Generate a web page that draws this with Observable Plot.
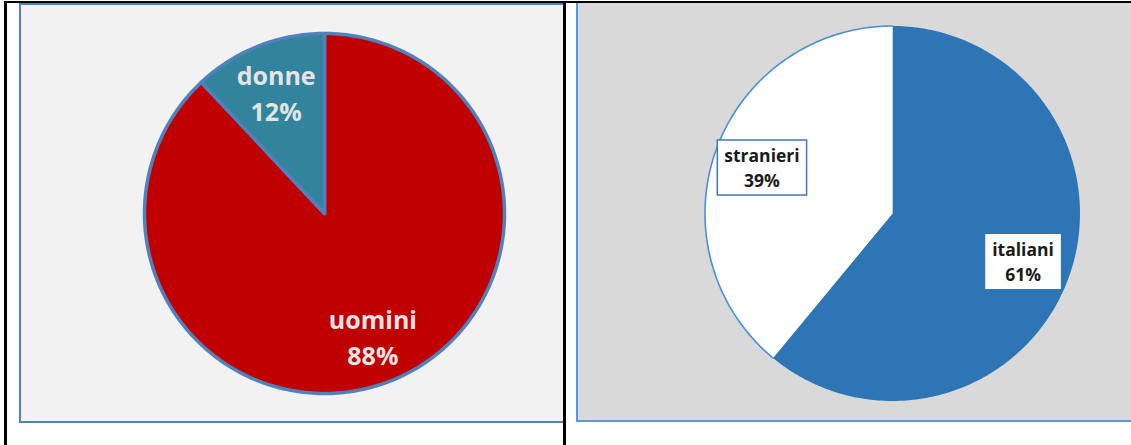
<!DOCTYPE html>
<html>
<head>
<meta charset="utf-8">
<script src="https://cdn.jsdelivr.net/npm/d3@7"></script>
<script src="https://cdn.jsdelivr.net/npm/@observablehq/plot@0.6"></script>
<style>
  html, body { margin: 0; padding: 0; background: #fff; }
  #page { position: relative; width: 1131px; height: 445px; overflow: hidden; background: #fff; }
  .abs { position: absolute; box-sizing: border-box; }
  #topline { left: 4px; top: 1px; width: 1127px; height: 2px; background: #000; }
  #lline { left: 4px; top: 1px; width: 3px; height: 444px; background: #000; }
  #mline { left: 563px; top: 1px; width: 3px; height: 444px; background: #000; }
  #lpanel { left: 19px; top: 3px; width: 544px; height: 420px; background: #f2f2f2;
            border-left: 2px solid #4f81bd; border-top: 2px solid #4f81bd; border-bottom: 2px solid #4f81bd; }
  #rpanel { left: 576px; top: 1px; width: 555px; height: 421px; background: #d9d9d9;
            border-left: 2px solid #5b9bd5; border-top: 2px solid #5b9bd5; border-bottom: 2px solid #5b9bd5; }
  #lchart { left: 124px; top: 13px; }
  #rchart { left: 692px; top: 13px; }
</style>
</head>
<body>
<div id="page">
  <div class="abs" id="lpanel"></div>
  <div class="abs" id="rpanel"></div>
  <div class="abs" id="topline"></div>
  <div class="abs" id="lline"></div>
  <div class="abs" id="mline"></div>
  <div class="abs" id="lchart"></div>
  <div class="abs" id="rchart"></div>
</div>
<script>
// ---- data ----
const genderCategories = ["uomini", "donne"];
const genderValues = [88, 12];
const originCategories = ["italiani", "stranieri"];
const originValues = [61, 39];

// ---- helpers: slice angles (clockwise from 12 o'clock) ----
function slices(categories, values) {
  const total = d3.sum(values);
  let acc = 0;
  return categories.map((c, i) => {
    const a0 = acc / total * 2 * Math.PI;
    acc += values[i];
    const a1 = acc / total * 2 * Math.PI;
    return {category: c, value: values[i], a0, a1, mid: (a0 + a1) / 2};
  });
}
function arcPoints(s) {
  const n = Math.max(2, Math.ceil((s.a1 - s.a0) / (Math.PI / 180)));
  const pts = [];
  for (let k = 0; k <= n; k++) {
    const a = s.a0 + (s.a1 - s.a0) * k / n;
    pts.push({category: s.category, x: Math.sin(a), y: Math.cos(a)});
  }
  return pts;
}
function wedgePoints(s) {
  return [{category: s.category, x: 0, y: 0}, ...arcPoints(s), {category: s.category, x: 0, y: 0}];
}

// ---- left pie: uomini / donne ----
const g = slices(genderCategories, genderValues);
const leftPlot = Plot.plot({
  width: 400, height: 400, margin: 20,
  x: {domain: [-1, 1], axis: null},
  y: {domain: [-1, 1], axis: null},
  color: {domain: genderCategories, range: ["#c00000", "#31849b"]},
  style: {background: "transparent", overflow: "visible"},
  marks: [
    Plot.line(g.flatMap(wedgePoints), {
      x: "x", y: "y", z: "category", fill: "category",
      stroke: "#4f81bd", strokeWidth: 3.5, strokeLinejoin: "round"
    }),
    Plot.text(g, {
      x: d => 0.73 * Math.sin(d.mid), y: d => 0.73 * Math.cos(d.mid),
      text: d => `${d.category}\n${d.value}%`,
      fill: "#e4e4e4", fontSize: 25, fontWeight: "bold", fontFamily: "Open Sans",
      lineHeight: 1.45
    })
  ]
});
document.getElementById("lchart").appendChild(leftPlot);

// ---- right pie: italiani / stranieri ----
const o = slices(originCategories, originValues);
const rightPlot = Plot.plot({
  width: 400, height: 400, margin: 12.5,
  x: {domain: [-1, 1], axis: null},
  y: {domain: [-1, 1], axis: null},
  color: {domain: originCategories, range: ["#2e75b6", "#ffffff"]},
  style: {background: "transparent", overflow: "visible"},
  marks: [
    Plot.line(o.flatMap(wedgePoints), {
      x: "x", y: "y", z: "category", fill: "category", stroke: "none"
    }),
    Plot.line(o.filter(s => s.category === "stranieri").flatMap(arcPoints), {
      x: "x", y: "y", stroke: "#4a8fd6", strokeWidth: 1.6
    }),
    Plot.text(o, {
      x: d => 0.74 * Math.sin(d.mid), y: d => 0.74 * Math.cos(d.mid),
      text: d => `${d.category}\n${d.value}%`,
      fill: "#1a1a1a", fontSize: 17.5, fontWeight: "bold", fontFamily: "Open Sans",
      lineHeight: 1.43
    })
  ]
});
document.getElementById("rchart").appendChild(rightPlot);

// label boxes behind the right-hand labels
const labelBorder = {italiani: "none", stranieri: "#4472c4"};
d3.select(rightPlot).selectAll('g[aria-label="text"] text').each(function(d, i) {
  const b = this.getBBox();
  const padX = 7, padY = 3;
  const cat = o[i].category;
  const r = d3.select(this.parentNode).insert("rect", () => this)
    .attr("x", b.x - padX).attr("y", b.y - padY)
    .attr("width", b.width + 2 * padX).attr("height", b.height + 2 * padY)
    .attr("fill", "#ffffff")
    .attr("stroke", labelBorder[cat]).attr("stroke-width", 1.5);
  const t = this.getAttribute("transform");
  if (t) r.attr("transform", t);
});
</script>
</body>
</html>
